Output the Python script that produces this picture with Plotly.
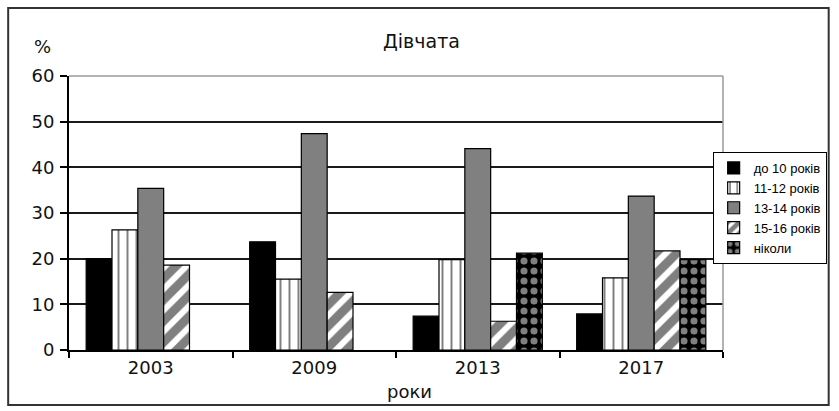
import plotly.graph_objects as go

# Survey years (categories on the x axis)
years = ["2003", "2009", "2013", "2017"]

# Share of girls (%) by age at the event, per survey year
age_under_10 = [20.0, 23.7, 7.4, 7.9]
age_11_12 = [26.3, 15.5, 19.8, 15.8]
age_13_14 = [35.4, 47.4, 44.1, 33.7]
age_15_16 = [18.6, 12.6, 6.3, 21.7]
never = [None, None, 21.2, 19.8]

series_names = ["до 10 років", "11-12 років", "13-14 років", "15-16 років", "ніколи"]
series_values = [age_under_10, age_11_12, age_13_14, age_15_16, never]

y_ticks = [0, 10, 20, 30, 40, 50, 60]

FONT = "DejaVu Sans, Liberation Sans, Arial, sans-serif"

# Fill style for each series: solid black, dashed white, grey, diagonal hatch, dotted black
styles = [
    dict(color="#000000", pattern=dict(shape="")),
    dict(color="#ffffff", pattern=dict(shape="|", fgcolor="#000000", bgcolor="#ffffff",
                                       size=9, solidity=0.22)),
    dict(color="#808080", pattern=dict(shape="")),
    dict(color="#ffffff", pattern=dict(shape="/", fgcolor="#000000", bgcolor="#ffffff",
                                       size=15, solidity=0.6)),
    dict(color="#000000", pattern=dict(shape=".", fgcolor="#ffffff", bgcolor="#000000",
                                       size=10, solidity=0.4)),
]

fig = go.Figure()
for name, vals, st in zip(series_names, series_values, styles):
    fig.add_trace(go.Bar(
        x=years, y=vals, name=name,
        marker=dict(color=st["color"], pattern=st["pattern"],
                    line=dict(color="#000000", width=1.2)),
    ))

fig.update_layout(
    width=839, height=411,
    margin=dict(l=69, r=114, t=76, b=61),
    paper_bgcolor="white", plot_bgcolor="white",
    barmode="group", bargap=0.21, bargroupgap=0.0,
    font=dict(family=FONT, size=18, color="#111111"),
    showlegend=True,
    legend=dict(
        x=1.1585, xanchor="right", y=0.7226, yanchor="top",
        bgcolor="white", bordercolor="#000000", borderwidth=1,
        font=dict(family="Liberation Sans, Arial, sans-serif", size=13, color="#000000"),
        itemwidth=30, traceorder="normal",
    ),
    xaxis=dict(
        type="category", tickson="boundaries", ticks="outside", ticklen=6,
        tickcolor="#000000", tickwidth=1.5,
        showline=True, linecolor="#000000", linewidth=2,
        showgrid=False, tickfont=dict(size=18),
    ),
    yaxis=dict(
        range=[0, 60], tickvals=y_ticks, ticks="outside", ticklen=7,
        tickcolor="#000000", tickwidth=1.5,
        showline=True, linecolor="#000000", linewidth=2,
        showgrid=True, gridcolor="#1a1a1a", gridwidth=2, zeroline=False,
        tickfont=dict(size=18), ticklabelstandoff=2,
    ),
)

# Plot frame (top and right edges) and the outer chart border
fig.add_shape(type="line", xref="paper", yref="paper", x0=0, x1=1, y0=1, y1=1,
              line=dict(color="#9a9a9a", width=1.5), layer="above")
fig.add_shape(type="line", xref="paper", yref="paper", x0=1, x1=1, y0=0, y1=1,
              line=dict(color="#9a9a9a", width=1.5), layer="above")
fig.add_shape(type="rect", xref="paper", yref="paper",
              x0=-0.093, x1=1.1616, y0=-0.2007, y1=1.248,
              line=dict(color="#333333", width=2), layer="below")

fig.add_annotation(text="Дівчата", xref="paper", yref="paper", x=0.5396, y=1.128,
                   xanchor="center", yanchor="middle", showarrow=False,
                   font=dict(family=FONT, size=19, color="#111111"))
fig.add_annotation(text="%", xref="paper", yref="paper", x=-0.041, y=1.109,
                   xanchor="center", yanchor="middle", showarrow=False,
                   font=dict(family=FONT, size=18, color="#111111"))
fig.add_annotation(text="роки", xref="paper", yref="paper", x=0.52, y=-0.153,
                   xanchor="center", yanchor="middle", showarrow=False,
                   font=dict(family=FONT, size=18, color="#111111"))

fig.write_html("out.html")
